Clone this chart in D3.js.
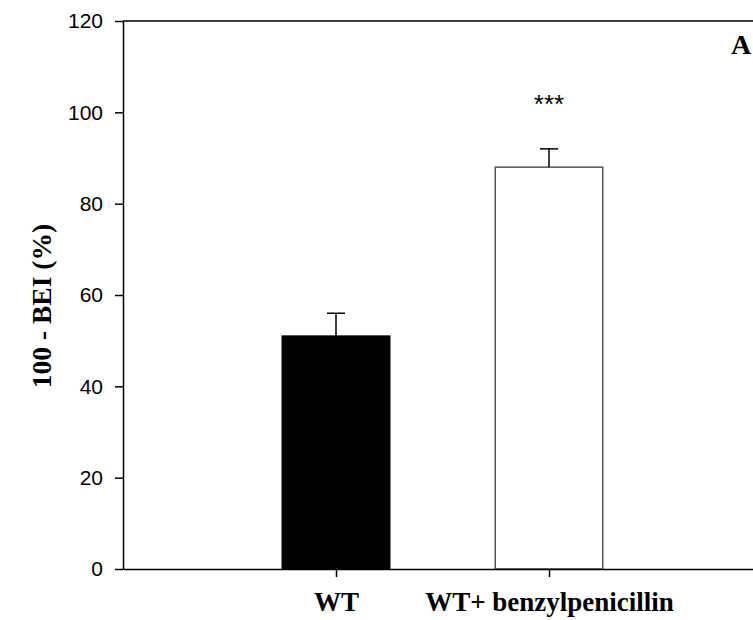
<!DOCTYPE html>
<html>
<head>
<meta charset="utf-8">
<script src="https://cdn.jsdelivr.net/npm/d3@7"></script>
<style>
  html, body { margin: 0; padding: 0; background: #fff; }
  svg { display: block; }
</style>
</head>
<body>
<svg id="chart" width="753" height="620"></svg>
<script>
// Group labels, means and standard errors
const categories = ["WT", "WT+ benzylpenicillin"];
const means = [51, 88];
const errors = [5, 4];
const significance = ["", "***"];
const yTicks = [0, 20, 40, 60, 80, 100, 120];
const fills = ["#000000", "#ffffff"];
const strokes = ["#000000", "#555555"];

const svg = d3.select("#chart");

const plot = { left: 123, top: 21, bottom: 569, right: 762 };

// Groups sit at positions 1 and 2 on a 0..3 track
const x = d3.scaleLinear().domain([0, 3]).range([plot.left, plot.right]);
const y = d3.scaleLinear().domain([0, 120]).range([plot.bottom, plot.top]);
const barWidth = 107.5;
const capWidth = 18;

// Frame top line
svg.append("line")
  .attr("x1", plot.left).attr("x2", plot.right)
  .attr("y1", plot.top).attr("y2", plot.top)
  .attr("stroke", "#000").attr("stroke-width", 1.5);

// Bars
svg.selectAll("rect.bar")
  .data(means)
  .join("rect")
  .attr("class", "bar")
  .attr("x", (d, i) => x(i + 1) - barWidth / 2)
  .attr("width", barWidth)
  .attr("y", d => y(d))
  .attr("height", d => y(0) - y(d))
  .attr("fill", (d, i) => fills[i])
  .attr("stroke", (d, i) => strokes[i])
  .attr("stroke-width", 1.5);

// Upper error bars
const eb = svg.selectAll("g.err")
  .data(means.map((m, i) => ({ m, e: errors[i], i })))
  .join("g").attr("class", "err")
  .attr("stroke", "#000").attr("stroke-width", 1.5);
eb.append("line")
  .attr("x1", d => x(d.i + 1)).attr("x2", d => x(d.i + 1))
  .attr("y1", d => y(d.m)).attr("y2", d => y(d.m + d.e));
eb.append("line")
  .attr("x1", d => x(d.i + 1) - capWidth / 2).attr("x2", d => x(d.i + 1) + capWidth / 2)
  .attr("y1", d => y(d.m + d.e)).attr("y2", d => y(d.m + d.e));

// Significance markers
svg.selectAll("text.sig")
  .data(significance)
  .join("text")
  .attr("class", "sig")
  .attr("x", (d, i) => x(i + 1))
  .attr("y", 113)
  .attr("text-anchor", "middle")
  .attr("font-family", "Liberation Sans, Arial, sans-serif")
  .attr("font-size", 26)
  .text(d => d);

// Y axis
const yAxis = d3.axisLeft(y).tickValues(yTicks).tickSize(8).tickPadding(12).tickSizeOuter(0);
const gy = svg.append("g").attr("transform", `translate(${plot.left},0)`).call(yAxis);
gy.select(".domain").attr("stroke", "#000").attr("stroke-width", 1.5);
gy.selectAll(".tick line").attr("stroke", "#000").attr("stroke-width", 1.5);
gy.selectAll(".tick text")
  .attr("font-family", "Liberation Sans, Arial, sans-serif")
  .attr("font-size", 21).attr("fill", "#000");

// X axis
const xAxis = d3.axisBottom(x).tickValues([1, 2]).tickSize(8).tickSizeOuter(0)
  .tickFormat(d => categories[d - 1]).tickPadding(15);
const gx = svg.append("g").attr("transform", `translate(0,${plot.bottom})`).call(xAxis);
gx.select(".domain").attr("stroke", "#000").attr("stroke-width", 1.5);
gx.selectAll(".tick line").attr("stroke", "#000").attr("stroke-width", 1.5);
gx.selectAll(".tick text")
  .attr("font-family", "Liberation Serif, Times New Roman, serif")
  .attr("font-weight", "bold")
  .attr("font-size", 27).attr("fill", "#000");

// Y axis title
svg.append("text")
  .attr("transform", "translate(51,306) rotate(-90)")
  .attr("text-anchor", "middle")
  .attr("font-family", "Liberation Serif, Times New Roman, serif")
  .attr("font-weight", "bold")
  .attr("font-size", 27.5)
  .text("100 - BEI (%)");

// Panel letter
svg.append("text")
  .attr("x", 731).attr("y", 54)
  .attr("font-family", "Liberation Serif, Times New Roman, serif")
  .attr("font-weight", "bold")
  .attr("font-size", 28)
  .text("A");
</script>
</body>
</html>
